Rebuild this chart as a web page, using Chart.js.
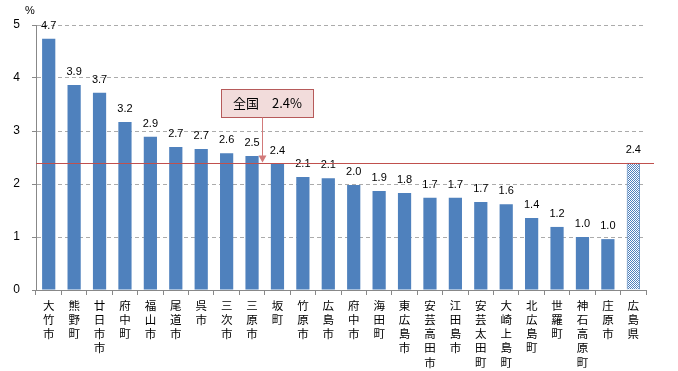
<!DOCTYPE html>
<html>
<head>
<meta charset="utf-8">
<script src="https://cdn.jsdelivr.net/npm/chart.js@4/dist/chart.umd.min.js"></script>
<style>
  html, body { margin: 0; padding: 0; background: #fff; }
  #wrap { width: 678px; height: 371px; position: relative; }
</style>
</head>
<body>
<div id="wrap"><canvas id="chart" width="678" height="371"></canvas></div>
<script>
const categories = ["大竹市", "熊野町", "廿日市市", "府中町", "福山市", "尾道市", "呉市", "三次市", "三原市", "坂町",
  "竹原市", "広島市", "府中市", "海田町", "東広島市", "安芸高田市", "江田島市", "安芸太田町", "大崎上島町", "北広島町",
  "世羅町", "神石高原町", "庄原市", "広島県"];
const values = [4.74, 3.87, 3.72, 3.17, 2.89, 2.70, 2.66, 2.58, 2.53, 2.38,
  2.13, 2.11, 1.98, 1.87, 1.83, 1.74, 1.74, 1.66, 1.62, 1.36,
  1.19, 1.00, 0.96, 2.40];
const yTicks = [0, 1, 2, 3, 4, 5];
const nationalAvg = 2.4;
const nationalLabel = "全国　2.4%";
const arrowIndex = 8.4;

const BLUE = "#4f81bd";

// checkered fill for the prefecture bar
function checker() {
  const c = document.createElement("canvas");
  c.width = 2; c.height = 2;
  const g = c.getContext("2d");
  g.fillStyle = "#fff"; g.fillRect(0, 0, 2, 2);
  g.fillStyle = BLUE; g.fillRect(0, 0, 1, 1); g.fillRect(1, 1, 1, 1);
  return g.createPattern(c, "repeat");
}
const pat = checker();
const last = categories.length - 1;
const colors = categories.map((c, i) => i === last ? pat : BLUE);
const borderW = categories.map((c, i) => i === last ? 1 : 0);

const overlay = {
  id: "overlay",
  afterDatasetsDraw(chart) {
    const ctx = chart.ctx;
    const xs = chart.scales.x, ys = chart.scales.y;
    const area = chart.chartArea;
    const meta = chart.getDatasetMeta(0);
    ctx.save();

    // value labels
    ctx.font = '11px "Liberation Sans", Arial, sans-serif';
    ctx.fillStyle = "#000";
    ctx.textAlign = "center";
    ctx.textBaseline = "alphabetic";
    meta.data.forEach((bar, i) => {
      ctx.fillText(values[i].toFixed(1), bar.x, bar.y - 10);
    });

    // unit
    ctx.textAlign = "left";
    ctx.fillText("%", area.left - 11, area.top - 11);

    // national average line
    const ly = Math.round(ys.getPixelForValue(nationalAvg)) + 0.5;
    ctx.strokeStyle = "#c0504d";
    ctx.lineWidth = 1;
    ctx.beginPath();
    ctx.moveTo(area.left, ly);
    ctx.lineTo(area.right + 8, ly);
    ctx.stroke();

    // callout box
    const ax = Math.round(xs.getPixelForValue(arrowIndex)) + 0.5;
    const top = Math.round(ys.getPixelForValue(3.8)) + 0.5;
    const bx = ax - 41, bw = 92, bh = 28;
    ctx.fillStyle = "#f2dcdb";
    ctx.fillRect(bx, top, bw, bh);
    ctx.strokeStyle = "#b65a5a";
    ctx.strokeRect(bx, top, bw, bh);
    ctx.fillStyle = "#000";
    ctx.font = '13px "Noto Sans CJK JP", sans-serif';
    ctx.textAlign = "center";
    ctx.textBaseline = "middle";
    ctx.fillText(nationalLabel, bx + bw / 2, top + bh / 2);

    // arrow down to the line
    ctx.strokeStyle = "#d27a7a";
    ctx.fillStyle = "#d27a7a";
    ctx.beginPath();
    ctx.moveTo(ax, top + bh);
    ctx.lineTo(ax, ly - 6);
    ctx.stroke();
    ctx.beginPath();
    ctx.moveTo(ax - 4, ly - 8);
    ctx.lineTo(ax + 4, ly - 8);
    ctx.lineTo(ax, ly - 1);
    ctx.closePath();
    ctx.fill();

    ctx.restore();
  }
};

new Chart(document.getElementById("chart"), {
  type: "bar",
  data: {
    labels: categories.map(s => s.split("")),
    datasets: [{
      data: values,
      backgroundColor: colors,
      borderColor: BLUE,
      borderWidth: borderW,
      categoryPercentage: 1,
      barPercentage: 0.52
    }]
  },
  options: {
    responsive: false,
    animation: false,
    events: [],
    layout: { padding: { top: 25, right: 32, left: 0, bottom: 0 } },
    plugins: { legend: { display: false }, tooltip: { enabled: false } },
    scales: {
      x: {
        grid: { display: true, drawOnChartArea: false, drawTicks: true, tickLength: 5, color: "#888", offset: true },
        border: { color: "#888" },
        ticks: {
          autoSkip: false, maxRotation: 0, minRotation: 0, padding: 4, color: "#000",
          font: { family: '"Noto Sans CJK JP", sans-serif', size: 11.5, lineHeight: 1.22 }
        },
        afterFit(scale) { scale.height = 81; }
      },
      y: {
        min: 0, max: 5,
        afterBuildTicks(scale) { scale.ticks = yTicks.map(v => ({ value: v })); },
        grid: { color: "#ababab", tickColor: "#888", tickLength: 4, tickBorderDash: [] },
        border: { color: "#888", dash: [4, 3] },
        ticks: {
          padding: 12, color: "#000",
          font: { family: '"Liberation Sans", Arial, sans-serif', size: 12 }
        },
        afterFit(scale) { scale.width = 36; }
      }
    }
  },
  plugins: [overlay]
});
</script>
</body>
</html>
